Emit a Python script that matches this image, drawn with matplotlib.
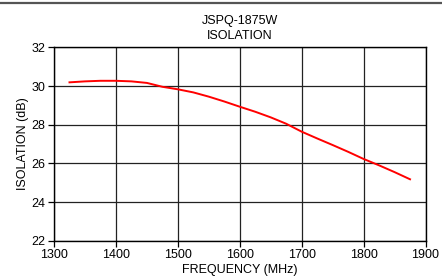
import matplotlib
matplotlib.use("Agg")
import matplotlib.pyplot as plt
from matplotlib.lines import Line2D

# isolation curve
freq = [1325, 1350, 1375, 1400, 1425, 1450, 1475, 1500, 1525, 1550, 1575, 1600,
        1625, 1650, 1675, 1700, 1725, 1750, 1775, 1800, 1825, 1850, 1875]
isolation = [30.19, 30.24, 30.27, 30.27, 30.24, 30.16, 29.96, 29.83, 29.67, 29.45, 29.2, 28.93,
             28.67, 28.38, 28.05, 27.64, 27.29, 26.95, 26.6, 26.23, 25.9, 25.55, 25.18]
xticks = [1300, 1400, 1500, 1600, 1700, 1800, 1900]
yticks = [22, 24, 26, 28, 30, 32]

plt.rcParams['font.family'] = ['Liberation Sans', 'DejaVu Sans']
plt.rcParams['font.size'] = 9

fig = plt.figure(figsize=(4.42, 2.80), dpi=100)
ax = fig.add_axes([0.1222, 0.140, 0.8405, 0.691])

ax.plot(freq, isolation, color='#ff0000', linewidth=1.4)

ax.set_xlim(1300, 1900)
ax.set_ylim(22, 32)
ax.set_xticks(xticks)
ax.set_yticks(yticks)
ax.grid(True, color='#222222', linewidth=0.9)
ax.set_axisbelow(True)
for s in ax.spines.values():
    s.set_color('black')
    s.set_linewidth(1.0)
ax.tick_params(direction='out', length=4, width=0.9, pad=2, labelsize=9)

ax.set_xlabel('FREQUENCY (MHz)', fontsize=9, labelpad=2)
ax.set_ylabel('ISOLATION (dB)', fontsize=9, labelpad=2)
ax.set_title('JSPQ-1875W\nISOLATION', fontsize=9, linespacing=1.3, pad=6)

# dark rule across the top of the image
fig.add_artist(Line2D([0, 1], [0.991, 0.991], transform=fig.transFigure,
                      color='#555555', linewidth=1.6))

fig.savefig('out.png', dpi=100)
